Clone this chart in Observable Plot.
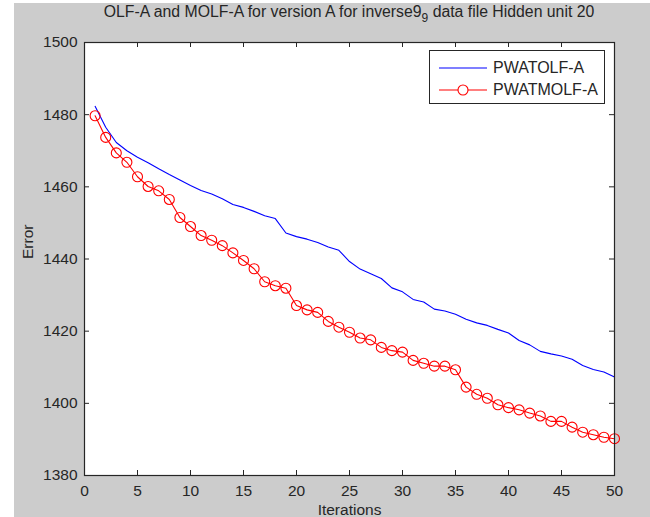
<!DOCTYPE html>
<html>
<head>
<meta charset="utf-8">
<script src="https://cdn.jsdelivr.net/npm/d3@7"></script>
<script src="https://cdn.jsdelivr.net/npm/@observablehq/plot@0.6"></script>
<style>
  body { margin: 0; background: #ffffff; font-family: "Liberation Sans", Arial, sans-serif; }
  #fig { position: absolute; left: 14px; top: 3px; width: 636px; height: 514px; background: #cccccc; }
  #title { position: absolute; left: 35px; width: 600px; top: 0px; text-align: center;
           font-size: 15.8px; color: #262626; white-space: nowrap; }
  #title sub { font-size: 12px; vertical-align: -5px; line-height: 0; }
  #chart { position: absolute; left: 0; top: 0; }
  #legend { position: absolute; left: 415px; top: 47px; width: 176px; height: 54px;
            background: #ffffff; border: 1px solid #262626; box-sizing: border-box; }
  #legend .row { position: absolute; left: 0; height: 22px; display: flex; align-items: center; }
  #legend svg { margin-left: 8px; }
  #legend span { margin-left: 5px; font-size: 16px; color: #262626; }
</style>
</head>
<body>
<div id="fig">
  <div id="chart"></div>
  <div id="title">OLF-A and MOLF-A for version A for inverse9<sub>9</sub> data file Hidden unit 20</div>
  <div id="legend"></div>
</div>
<script>
// Training error per iteration for the two algorithms
const iterations = [1, 2, 3, 4, 5, 6, 7, 8, 9, 10,
  11, 12, 13, 14, 15, 16, 17, 18, 19, 20,
  21, 22, 23, 24, 25, 26, 27, 28, 29, 30,
  31, 32, 33, 34, 35, 36, 37, 38, 39, 40,
  41, 42, 43, 44, 45, 46, 47, 48, 49, 50];

const pwatolf = [1482.3, 1476.5, 1472.3, 1470.0, 1468.2, 1466.7, 1465.0, 1463.4, 1461.9, 1460.4,
  1459.0, 1458.0, 1456.7, 1455.1, 1454.3, 1453.2, 1452.0, 1451.2, 1447.2, 1446.2,
  1445.5, 1444.6, 1443.3, 1442.4, 1439.3, 1437.2, 1435.9, 1434.6, 1432.0, 1430.9,
  1428.8, 1428.1, 1426.1, 1425.6, 1424.7, 1423.3, 1422.3, 1421.6, 1420.5, 1419.5,
  1417.4, 1416.2, 1414.4, 1413.7, 1413.1, 1412.2, 1410.5, 1409.4, 1408.7, 1407.3];

const pwatmolf = [1479.7, 1473.7, 1469.4, 1466.8, 1462.8, 1460.1, 1458.9, 1456.5, 1451.5, 1449.0,
  1446.5, 1445.2, 1443.7, 1441.7, 1439.6, 1437.3, 1433.7, 1432.6, 1431.9, 1427.1,
  1425.9, 1425.2, 1422.7, 1421.1, 1419.7, 1418.1, 1417.6, 1415.5, 1414.6, 1414.2,
  1411.9, 1411.1, 1410.3, 1410.3, 1409.3, 1404.5, 1402.5, 1401.4, 1399.6, 1398.8,
  1398.2, 1397.3, 1396.5, 1395.0, 1395.0, 1393.4, 1392.0, 1391.3, 1390.6, 1390.2];

const seriesNames = ["PWATOLF-A", "PWATMOLF-A"];
const seriesColors = ["#0000ff", "#ff0000"];

const xTicks = [0, 5, 10, 15, 20, 25, 30, 35, 40, 45, 50];
const yTicks = [1380, 1400, 1420, 1440, 1460, 1480, 1500];

const rows = vals => iterations.map((it, i) => ({iteration: it, error: vals[i]}));
const olf = rows(pwatolf);
const molf = rows(pwatmolf);

const W = 636, H = 514;
const M = {top: 39, right: 36, bottom: 42, left: 70};
const innerW = W - M.left - M.right;
const innerH = H - M.top - M.bottom;
const tick = 5;
const ink = "#262626";

const chart = Plot.plot({
  width: W,
  height: H,
  marginTop: M.top,
  marginRight: M.right,
  marginBottom: M.bottom,
  marginLeft: M.left,
  style: {background: "transparent", fontFamily: "'Liberation Sans', Arial, sans-serif", fontSize: "15.5px", color: ink},
  x: {domain: [0, 50]},
  y: {domain: [1380, 1500]},
  marks: [
    Plot.frame({fill: "#ffffff", stroke: null}),
    // inward tick marks on all four sides
    Plot.ruleX(xTicks, {x: d => d, insetTop: innerH - tick, stroke: ink}),
    Plot.ruleX(xTicks, {x: d => d, insetBottom: innerH - tick, stroke: ink}),
    Plot.ruleY(yTicks, {y: d => d, insetRight: innerW - tick, stroke: ink}),
    Plot.ruleY(yTicks, {y: d => d, insetLeft: innerW - tick, stroke: ink}),
    Plot.axisX({ticks: xTicks, tickSize: 0, tickPadding: 9, label: null, tickFormat: d3.format("d")}),
    Plot.axisY({ticks: yTicks, tickSize: 0, tickPadding: 7, label: null, tickFormat: d3.format("d")}),
    Plot.line(olf, {x: "iteration", y: "error", stroke: seriesColors[0], strokeWidth: 1.1}),
    Plot.line(molf, {x: "iteration", y: "error", stroke: seriesColors[1], strokeWidth: 1.1}),
    Plot.dot(molf, {x: "iteration", y: "error", r: 5, stroke: seriesColors[1], fill: "none", strokeWidth: 1.1}),
    Plot.frame({stroke: ink, strokeWidth: 1.2}),
    Plot.text(["Iterations"], {frameAnchor: "bottom", lineAnchor: "middle", dy: 35, fill: ink}),
    Plot.text(["Error"], {frameAnchor: "left", lineAnchor: "middle", rotate: -90, dx: -56, fill: ink})
  ]
});
document.getElementById("chart").append(chart);

// legend entries: plain line, and line with a circle marker
const legend = document.getElementById("legend");
seriesNames.forEach((name, i) => {
  const row = document.createElement("div");
  row.className = "row";
  row.style.top = (6 + i * 22) + "px";
  const svg = d3.create("svg").attr("width", 50).attr("height", 22);
  svg.append("line").attr("x1", 1).attr("x2", 49).attr("y1", 11).attr("y2", 11)
    .attr("stroke", seriesColors[i]).attr("stroke-width", 1.1);
  if (i === 1) {
    svg.append("circle").attr("cx", 25).attr("cy", 11).attr("r", 5)
      .attr("fill", "#ffffff").attr("stroke", seriesColors[i]).attr("stroke-width", 1.1);
  }
  row.append(svg.node());
  const label = document.createElement("span");
  label.textContent = name;
  row.append(label);
  legend.append(row);
});
</script>
</body>
</html>
